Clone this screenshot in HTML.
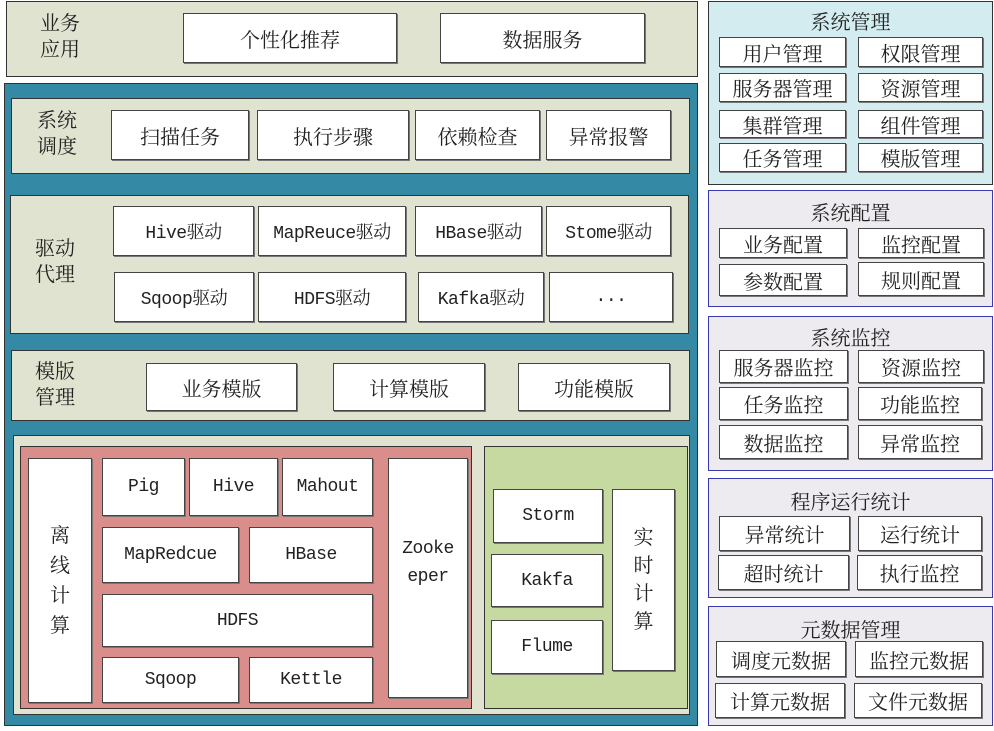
<!DOCTYPE html>
<html><head><meta charset="utf-8"><style>
body{margin:0;width:994px;height:731px;background:#fff;position:relative;overflow:hidden;font-family:"Liberation Serif","Noto Serif CJK SC",serif;color:#222}
div{box-sizing:border-box}
.p{position:absolute;border:1px solid #333}
.b{position:absolute;background:#fff;border:1px solid #444;box-shadow:1px 1px 0 #777;display:flex;align-items:center;justify-content:center;font-size:20px;white-space:nowrap}
.m{font-family:"Liberation Mono","Noto Serif CJK SC",monospace;font-size:18px;letter-spacing:-0.5px}
.l{position:absolute;font-size:20px;line-height:26px;text-align:center}
.bg{background:#e0e3d0}
.r{position:absolute;border:1px solid #3a3ab0;background:#edebf0}
.t{position:absolute;left:0;width:100%;text-align:center;font-size:20px}
</style></head><body>
<!-- top -->
<div class="p bg" style="left:6px;top:1px;width:692px;height:76px"></div>
<div class="l" style="left:40px;top:11px">业务<br>应用</div>
<div class="b" style="left:183px;top:13px;width:214px;height:50px">个性化推荐</div>
<div class="b" style="left:440px;top:13px;width:205px;height:50px">数据服务</div>
<!-- blue -->
<div class="p" style="left:4px;top:83px;width:694px;height:643px;background:#3489a5"></div>
<div class="p bg" style="left:11px;top:98px;width:679px;height:76px"></div>
<div class="l" style="left:37px;top:108px">系统<br>调度</div>
<div class="b" style="left:111px;top:110px;width:138px;height:50px">扫描任务</div>
<div class="b" style="left:257px;top:110px;width:152px;height:50px">执行步骤</div>
<div class="b" style="left:415px;top:110px;width:125px;height:50px">依赖检查</div>
<div class="b" style="left:546px;top:110px;width:125px;height:50px">异常报警</div>
<div class="p bg" style="left:10px;top:195px;width:679px;height:139px"></div>
<div class="l" style="left:35px;top:236px">驱动<br>代理</div>
<div class="b m" style="left:113px;top:206px;width:141px;height:50px">Hive驱动</div>
<div class="b m" style="left:258px;top:206px;width:148px;height:50px">MapReuce驱动</div>
<div class="b m" style="left:415px;top:206px;width:127px;height:50px">HBase驱动</div>
<div class="b m" style="left:546px;top:206px;width:125px;height:50px">Stome驱动</div>
<div class="b m" style="left:114px;top:272px;width:140px;height:50px">Sqoop驱动</div>
<div class="b m" style="left:258px;top:272px;width:148px;height:50px">HDFS驱动</div>
<div class="b m" style="left:418px;top:272px;width:126px;height:50px">Kafka驱动</div>
<div class="b m" style="left:549px;top:272px;width:124px;height:50px">...</div>
<div class="p bg" style="left:11px;top:350px;width:679px;height:71px"></div>
<div class="l" style="left:35px;top:359px">模版<br>管理</div>
<div class="b" style="left:146px;top:363px;width:151px;height:48px">业务模版</div>
<div class="b" style="left:333px;top:363px;width:152px;height:48px">计算模版</div>
<div class="b" style="left:518px;top:363px;width:152px;height:48px">功能模版</div>
<div class="p bg" style="left:13px;top:435px;width:677px;height:280px"></div>
<div class="p" style="left:20px;top:446px;width:452px;height:263px;background:#d98e8c"></div>
<div class="b" style="left:28px;top:458px;width:64px;height:245px;flex-direction:column;line-height:30px">离<br>线<br>计<br>算</div>
<div class="b m" style="left:102px;top:458px;width:83px;height:58px">Pig</div>
<div class="b m" style="left:189px;top:458px;width:89px;height:58px">Hive</div>
<div class="b m" style="left:282px;top:458px;width:91px;height:58px">Mahout</div>
<div class="b m" style="left:102px;top:527px;width:137px;height:56px">MapRedcue</div>
<div class="b m" style="left:249px;top:527px;width:124px;height:56px">HBase</div>
<div class="b m" style="left:102px;top:594px;width:271px;height:53px">HDFS</div>
<div class="b m" style="left:102px;top:657px;width:137px;height:46px">Sqoop</div>
<div class="b m" style="left:249px;top:657px;width:124px;height:46px">Kettle</div>
<div class="b m" style="left:388px;top:458px;width:80px;height:240px;white-space:normal;text-align:center;line-height:28px;padding-bottom:30px">Zooke<br>eper</div>
<div class="p" style="left:484px;top:446px;width:204px;height:263px;background:#c6d9a0"></div>
<div class="b m" style="left:493px;top:489px;width:110px;height:54px">Storm</div>
<div class="b m" style="left:491px;top:554px;width:112px;height:53px">Kakfa</div>
<div class="b m" style="left:491px;top:620px;width:112px;height:54px">Flume</div>
<div class="b" style="left:612px;top:489px;width:63px;height:182px;flex-direction:column;line-height:28px">实<br>时<br>计<br>算</div>
<!-- right -->
<div class="p" style="left:708px;top:1px;width:285px;height:184px;background:#d3ecf0"><div class="t" style="top:4px">系统管理</div></div>
<div class="b" style="left:719px;top:37px;width:127px;height:30px">用户管理</div>
<div class="b" style="left:858px;top:37px;width:125px;height:30px">权限管理</div>
<div class="b" style="left:719px;top:73px;width:127px;height:29px">服务器管理</div>
<div class="b" style="left:858px;top:73px;width:125px;height:29px">资源管理</div>
<div class="b" style="left:719px;top:110px;width:127px;height:28px">集群管理</div>
<div class="b" style="left:858px;top:110px;width:125px;height:28px">组件管理</div>
<div class="b" style="left:719px;top:143px;width:127px;height:29px">任务管理</div>
<div class="b" style="left:858px;top:143px;width:125px;height:29px">模版管理</div>
<div class="r" style="left:708px;top:190px;width:285px;height:117px"><div class="t" style="top:6px">系统配置</div></div>
<div class="b" style="left:719px;top:228px;width:128px;height:30px">业务配置</div>
<div class="b" style="left:858px;top:228px;width:126px;height:30px">监控配置</div>
<div class="b" style="left:719px;top:264px;width:128px;height:32px">参数配置</div>
<div class="b" style="left:858px;top:262px;width:126px;height:34px">规则配置</div>
<div class="r" style="left:708px;top:316px;width:285px;height:155px"><div class="t" style="top:5px">系统监控</div></div>
<div class="b" style="left:719px;top:350px;width:129px;height:33px">服务器监控</div>
<div class="b" style="left:858px;top:350px;width:126px;height:33px">资源监控</div>
<div class="b" style="left:719px;top:387px;width:129px;height:33px">任务监控</div>
<div class="b" style="left:858px;top:387px;width:124px;height:33px">功能监控</div>
<div class="b" style="left:719px;top:425px;width:129px;height:34px">数据监控</div>
<div class="b" style="left:858px;top:425px;width:124px;height:34px">异常监控</div>
<div class="r" style="left:708px;top:478px;width:285px;height:120px"><div class="t" style="top:7px">程序运行统计</div></div>
<div class="b" style="left:719px;top:516px;width:131px;height:35px">异常统计</div>
<div class="b" style="left:858px;top:516px;width:124px;height:35px">运行统计</div>
<div class="b" style="left:718px;top:555px;width:131px;height:35px">超时统计</div>
<div class="b" style="left:857px;top:555px;width:125px;height:35px">执行监控</div>
<div class="r" style="left:708px;top:606px;width:285px;height:120px"><div class="t" style="top:7px">元数据管理</div></div>
<div class="b" style="left:716px;top:641px;width:130px;height:36px">调度元数据</div>
<div class="b" style="left:855px;top:641px;width:128px;height:36px">监控元数据</div>
<div class="b" style="left:715px;top:683px;width:130px;height:35px">计算元数据</div>
<div class="b" style="left:854px;top:683px;width:128px;height:35px">文件元数据</div>
</body></html>
